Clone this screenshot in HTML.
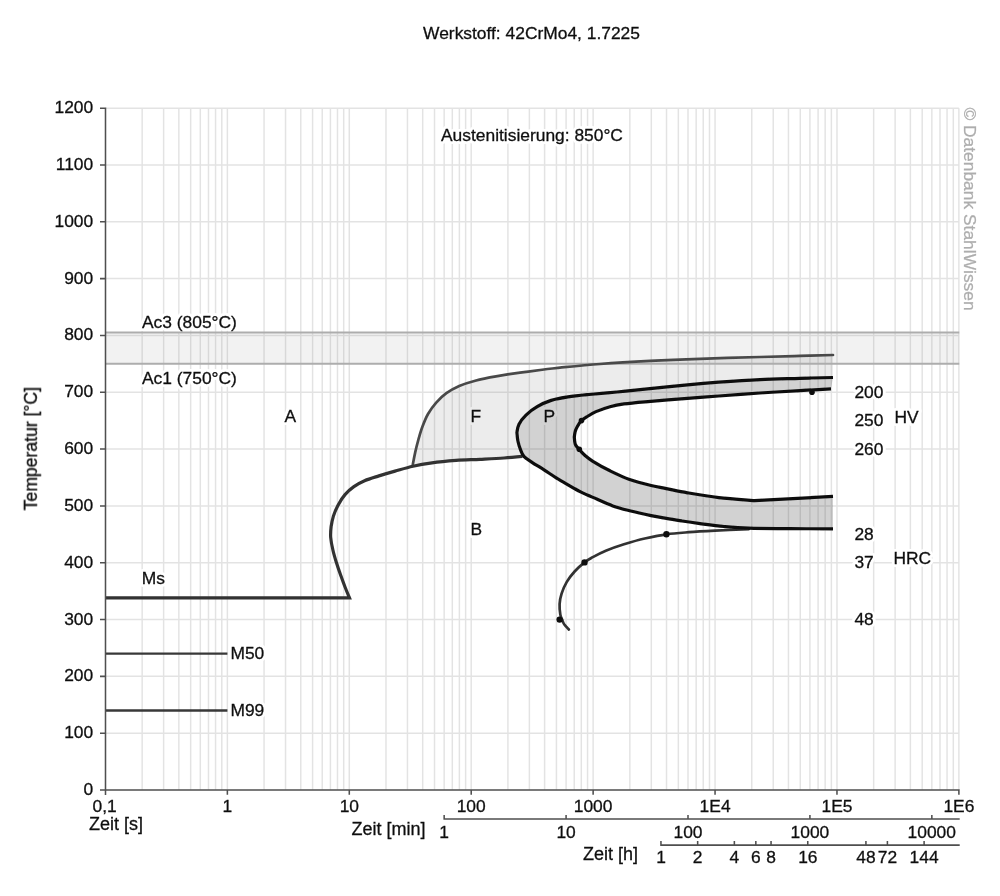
<!DOCTYPE html><html><head><meta charset="utf-8"><title>ZTU 42CrMo4</title>
<style>html,body{margin:0;padding:0;background:#fff}svg{display:block}text{font-family:"Liberation Sans",sans-serif;font-size:17.4px;fill:#111;stroke:#111;stroke-width:0.3px}text.h{stroke:#fff;stroke-width:6px;stroke-linejoin:round;fill:#fff}</style></head><body>
<svg width="1000" height="896" viewBox="0 0 1000 896">
<defs><filter id="bl" x="0" y="0" width="1000" height="896" filterUnits="userSpaceOnUse"><feGaussianBlur stdDeviation="0.55"/></filter></defs>
<rect width="1000" height="896" fill="#fff"/>
<g filter="url(#bl)">
<path d="M142.15,108.2V790.0M163.62,108.2V790.0M178.85,108.2V790.0M190.67,108.2V790.0M200.32,108.2V790.0M208.48,108.2V790.0M215.55,108.2V790.0M221.79,108.2V790.0M227.37,108.2V790.0M264.07,108.2V790.0M285.54,108.2V790.0M300.77,108.2V790.0M312.59,108.2V790.0M322.24,108.2V790.0M330.40,108.2V790.0M337.47,108.2V790.0M343.71,108.2V790.0M349.29,108.2V790.0M385.99,108.2V790.0M407.46,108.2V790.0M422.69,108.2V790.0M434.51,108.2V790.0M444.16,108.2V790.0M452.32,108.2V790.0M459.39,108.2V790.0M465.63,108.2V790.0M471.21,108.2V790.0M507.91,108.2V790.0M529.38,108.2V790.0M544.61,108.2V790.0M556.43,108.2V790.0M566.08,108.2V790.0M574.24,108.2V790.0M581.31,108.2V790.0M587.55,108.2V790.0M593.13,108.2V790.0M629.83,108.2V790.0M651.30,108.2V790.0M666.53,108.2V790.0M678.35,108.2V790.0M688.00,108.2V790.0M696.16,108.2V790.0M703.23,108.2V790.0M709.47,108.2V790.0M715.05,108.2V790.0M751.75,108.2V790.0M773.22,108.2V790.0M788.45,108.2V790.0M800.27,108.2V790.0M809.92,108.2V790.0M818.08,108.2V790.0M825.15,108.2V790.0M831.39,108.2V790.0M836.97,108.2V790.0M873.67,108.2V790.0M895.14,108.2V790.0M910.37,108.2V790.0M922.19,108.2V790.0M931.84,108.2V790.0M940.00,108.2V790.0M947.07,108.2V790.0M953.31,108.2V790.0M958.89,108.2V790.0M105.5,733.18H958.9M105.5,676.36H958.9M105.5,619.54H958.9M105.5,562.72H958.9M105.5,505.90H958.9M105.5,449.08H958.9M105.5,392.26H958.9M105.5,335.44H958.9M105.5,278.62H958.9M105.5,221.80H958.9M105.5,164.98H958.9M105.5,108.16H958.9" stroke="#000" stroke-opacity="0.108" stroke-width="1.5" fill="none"/>
<text class="h" x="531.5" y="39.0" text-anchor="middle">Werkstoff: 42CrMo4, 1.7225</text>
<text class="h" x="441.0" y="141.0" text-anchor="start">Austenitisierung: 850°C</text>
<text class="h" x="93.2" y="795.0" text-anchor="end">0</text>
<text class="h" x="93.2" y="738.2" text-anchor="end">100</text>
<text class="h" x="93.2" y="681.4" text-anchor="end">200</text>
<text class="h" x="93.2" y="624.5" text-anchor="end">300</text>
<text class="h" x="93.2" y="567.7" text-anchor="end">400</text>
<text class="h" x="93.2" y="510.9" text-anchor="end">500</text>
<text class="h" x="93.2" y="454.1" text-anchor="end">600</text>
<text class="h" x="93.2" y="397.3" text-anchor="end">700</text>
<text class="h" x="93.2" y="340.4" text-anchor="end">800</text>
<text class="h" x="93.2" y="283.6" text-anchor="end">900</text>
<text class="h" x="93.2" y="226.8" text-anchor="end">1000</text>
<text class="h" x="93.2" y="170.0" text-anchor="end">1100</text>
<text class="h" x="93.2" y="113.2" text-anchor="end">1200</text>
<text class="h" x="142.0" y="328.4" text-anchor="start">Ac3 (805°C)</text>
<text class="h" x="142.0" y="384.3" text-anchor="start">Ac1 (750°C)</text>
<text class="h" x="284.5" y="421.9" text-anchor="start">A</text>
<text class="h" x="470.5" y="421.9" text-anchor="start">F</text>
<text class="h" x="543.5" y="421.9" text-anchor="start">P</text>
<text class="h" x="470.5" y="535.3" text-anchor="start">B</text>
<text class="h" x="141.7" y="584.2" text-anchor="start">Ms</text>
<text class="h" x="230.4" y="659.4" text-anchor="start">M50</text>
<text class="h" x="230.4" y="716.0" text-anchor="start">M99</text>
<text class="h" x="854.4" y="397.8" text-anchor="start">200</text>
<text class="h" x="854.4" y="426.2" text-anchor="start">250</text>
<text class="h" x="854.4" y="454.6" text-anchor="start">260</text>
<text class="h" x="854.4" y="539.8" text-anchor="start">28</text>
<text class="h" x="854.4" y="568.2" text-anchor="start">37</text>
<text class="h" x="854.4" y="625.0" text-anchor="start">48</text>
<text class="h" x="894.5" y="422.5" text-anchor="start">HV</text>
<text class="h" x="893.5" y="564.0" text-anchor="start">HRC</text>
<text class="h" x="92.6" y="812.4" text-anchor="start">0,1</text>
<text class="h" x="227.4" y="812.4" text-anchor="middle">1</text>
<text class="h" x="349.3" y="812.4" text-anchor="middle">10</text>
<text class="h" x="471.2" y="812.4" text-anchor="middle">100</text>
<text class="h" x="593.1" y="812.4" text-anchor="middle">1000</text>
<text class="h" x="715.1" y="812.4" text-anchor="middle">1E4</text>
<text class="h" x="837.0" y="812.4" text-anchor="middle">1E5</text>
<text class="h" x="958.9" y="812.4" text-anchor="middle">1E6</text>
<text class="h" x="89.0" y="830.2" text-anchor="start" style="font-size:18px">Zeit [s]</text>
<text class="h" x="351.5" y="835.0" text-anchor="start" style="font-size:18px">Zeit [min]</text>
<text class="h" x="444.2" y="838.2" text-anchor="middle">1</text>
<text class="h" x="566.1" y="838.2" text-anchor="middle">10</text>
<text class="h" x="688.0" y="838.2" text-anchor="middle">100</text>
<text class="h" x="809.9" y="838.2" text-anchor="middle">1000</text>
<text class="h" x="931.8" y="838.2" text-anchor="middle">10000</text>
<text class="h" x="583.0" y="859.8" text-anchor="start" style="font-size:18px">Zeit [h]</text>
<text class="h" x="661.0" y="863.0" text-anchor="middle">1</text>
<text class="h" x="697.7" y="863.0" text-anchor="middle">2</text>
<text class="h" x="734.4" y="863.0" text-anchor="middle">4</text>
<text class="h" x="755.8" y="863.0" text-anchor="middle">6</text>
<text class="h" x="771.1" y="863.0" text-anchor="middle">8</text>
<text class="h" x="807.8" y="863.0" text-anchor="middle">16</text>
<text class="h" x="865.9" y="863.0" text-anchor="middle">48</text>
<text class="h" x="887.4" y="863.0" text-anchor="middle">72</text>
<text class="h" x="924.1" y="863.0" text-anchor="middle">144</text>
<rect x="105.5" y="332.6" width="853.8" height="31.3" fill="#000" fill-opacity="0.052"/>
<path d="M412.8,464.6 C413.2,462.6 414.3,456.6 415.2,452.4 C416.1,448.2 417.2,443.9 418.4,439.6 C419.6,435.3 420.8,431.1 422.4,426.8 C424.0,422.5 425.7,418.0 428.0,414.0 C430.3,410.0 432.9,406.3 436.0,402.8 C439.1,399.3 442.5,396.0 446.4,393.2 C450.3,390.4 454.4,388.1 459.2,386.0 C464.0,383.9 469.1,382.3 475.2,380.7 C481.3,379.1 488.5,377.7 496.0,376.4 C503.5,375.1 512.0,373.8 520.0,372.7 C528.0,371.6 537.3,370.4 544.0,369.5 C550.7,368.6 550.7,368.5 560.0,367.6 C569.3,366.7 585.0,365.1 600.0,364.0 C615.0,362.9 633.3,361.8 650.0,360.9 C666.7,360.0 681.7,359.4 700.0,358.8 C718.3,358.2 743.3,357.5 760.0,357.0 C776.7,356.5 787.8,356.2 800.0,355.9 C812.2,355.6 827.5,355.1 833.0,355.0 L833.0,377.5 C827.5,377.6 812.2,377.9 800.0,378.3 C787.8,378.7 773.5,379.0 760.0,379.6 C746.5,380.2 730.8,381.3 718.8,382.2 C706.7,383.1 699.8,383.7 687.5,384.9 C675.2,386.1 656.8,388.0 645.0,389.2 C633.2,390.4 626.3,391.1 617.0,392.0 C607.7,392.9 597.2,393.7 589.0,394.5 C580.8,395.3 574.3,395.9 568.0,396.9 C561.7,397.9 556.3,398.8 551.2,400.4 C546.1,402.0 541.4,404.2 537.2,406.7 C533.0,409.1 529.0,412.2 526.0,415.1 C523.0,418.0 520.5,421.3 519.0,424.2 C517.5,427.1 517.2,431.2 516.9,432.6 C517.1,434.0 517.3,438.2 517.9,441.0 C518.5,443.8 519.4,446.8 520.4,449.4 C521.4,452.0 523.3,455.2 523.9,456.4 L522.4,456.4 C519.3,456.7 511.1,457.5 504.0,458.0 C496.9,458.5 488.0,458.9 480.0,459.3 C472.0,459.7 464.0,459.8 456.0,460.4 C448.0,461.0 439.2,461.8 432.0,462.8 C424.8,463.8 416.1,465.6 412.9,466.2Z" fill="#000" fill-opacity="0.075"/>
<path d="M833.0,377.5 C827.5,377.6 812.2,377.9 800.0,378.3 C787.8,378.7 773.5,379.0 760.0,379.6 C746.5,380.2 730.8,381.3 718.8,382.2 C706.7,383.1 699.8,383.7 687.5,384.9 C675.2,386.1 656.8,388.0 645.0,389.2 C633.2,390.4 626.3,391.1 617.0,392.0 C607.7,392.9 597.2,393.7 589.0,394.5 C580.8,395.3 574.3,395.9 568.0,396.9 C561.7,397.9 556.3,398.8 551.2,400.4 C546.1,402.0 541.4,404.2 537.2,406.7 C533.0,409.1 529.0,412.2 526.0,415.1 C523.0,418.0 520.5,421.3 519.0,424.2 C517.5,427.1 517.2,431.2 516.9,432.6 C517.1,434.0 517.3,438.2 517.9,441.0 C518.5,443.8 519.4,446.8 520.4,449.4 C521.4,452.0 522.0,454.2 523.9,456.4 C525.8,458.5 528.6,460.0 532.0,462.3 C535.4,464.6 540.4,467.5 544.4,470.1 C548.4,472.7 552.6,475.5 556.2,477.8 C559.8,480.1 562.9,481.9 565.9,483.7 C568.9,485.4 571.5,486.9 574.0,488.3 C576.5,489.7 578.0,490.6 581.1,492.1 C584.2,493.6 587.6,495.1 592.9,497.4 C598.2,499.7 606.7,503.7 612.8,505.9 C618.9,508.1 623.2,509.1 629.6,510.7 C636.0,512.3 645.0,514.3 651.1,515.6 C657.2,516.9 661.1,517.5 666.3,518.4 C671.4,519.3 676.4,520.1 682.0,521.0 C687.6,521.9 693.0,522.7 700.0,523.6 C707.0,524.5 715.8,525.7 724.0,526.5 C732.2,527.3 738.0,527.9 749.0,528.2 C760.0,528.6 776.0,528.5 790.0,528.6 C804.0,528.7 825.8,528.9 833.0,528.9 L833.0,496.4 L754.5,500.6 C748.5,500.1 729.9,498.9 718.8,497.6 C707.6,496.3 696.2,494.3 687.5,492.8 C678.8,491.3 672.4,489.8 666.3,488.6 C660.2,487.4 657.2,487.0 651.1,485.5 C645.0,484.0 636.5,481.9 629.6,479.5 C622.8,477.1 616.1,473.8 610.0,470.8 C603.9,467.8 597.1,463.9 592.9,461.3 C588.7,458.7 587.1,457.2 584.8,455.2 C582.5,453.2 580.7,451.1 579.2,449.4 C577.7,447.7 576.5,446.5 575.7,445.2 C575.0,443.9 574.9,442.9 574.7,441.5 C574.5,440.1 574.4,437.8 574.3,437.0 C574.4,436.1 574.7,433.2 575.2,431.5 C575.7,429.8 576.1,428.8 577.1,427.0 C578.1,425.2 579.8,422.3 581.3,420.7 C582.8,419.1 583.8,418.7 586.2,417.2 C588.7,415.7 592.0,413.4 596.0,411.6 C600.0,409.9 605.3,408.0 610.0,406.7 C614.7,405.4 618.2,404.7 624.0,403.9 C629.8,403.1 634.4,402.7 645.0,401.8 C655.6,400.9 675.2,399.3 687.5,398.3 C699.8,397.3 706.7,396.9 718.8,396.0 C730.8,395.1 746.5,393.9 760.0,393.0 C773.5,392.1 788.2,391.3 800.0,390.6 C811.8,389.9 825.8,389.2 831.0,388.9Z" fill="#000" fill-opacity="0.175"/>
<path d="M105.5,332.6H959.3M105.5,363.8H959.3" stroke="#adadad" stroke-width="2" fill="none"/>
<path d="M412.8,464.6 C413.2,462.6 414.3,456.6 415.2,452.4 C416.1,448.2 417.2,443.9 418.4,439.6 C419.6,435.3 420.8,431.1 422.4,426.8 C424.0,422.5 425.7,418.0 428.0,414.0 C430.3,410.0 432.9,406.3 436.0,402.8 C439.1,399.3 442.5,396.0 446.4,393.2 C450.3,390.4 454.4,388.1 459.2,386.0 C464.0,383.9 469.1,382.3 475.2,380.7 C481.3,379.1 488.5,377.7 496.0,376.4 C503.5,375.1 512.0,373.8 520.0,372.7 C528.0,371.6 537.3,370.4 544.0,369.5 C550.7,368.6 550.7,368.5 560.0,367.6 C569.3,366.7 585.0,365.1 600.0,364.0 C615.0,362.9 633.3,361.8 650.0,360.9 C666.7,360.0 681.7,359.4 700.0,358.8 C718.3,358.2 743.3,357.5 760.0,357.0 C776.7,356.5 787.8,356.2 800.0,355.9 C812.2,355.6 827.5,355.1 833.0,355.0" stroke="#4a4a4a" stroke-width="2.7" fill="none" stroke-linecap="round"/>
<path d="M105.5,597.9H349.5  C348.8,596.2 346.7,591.3 345.2,587.5 C343.7,583.7 342.1,579.2 340.6,575.0 C339.1,570.8 337.7,566.7 336.4,562.5 C335.1,558.3 333.8,554.2 332.9,550.0 C331.9,545.8 331.0,541.4 330.7,537.5 C330.4,533.6 330.7,530.4 331.1,526.8 C331.6,523.2 332.3,519.7 333.4,516.1 C334.5,512.5 336.0,509.0 337.9,505.4 C339.8,501.8 342.3,497.7 345.0,494.6 C347.7,491.5 350.6,488.9 353.9,486.6 C357.2,484.3 360.4,482.5 364.6,480.7 C368.8,478.9 373.8,477.5 378.9,475.9 C384.0,474.3 389.3,472.7 395.0,471.1 C400.7,469.5 406.7,467.6 412.9,466.2 C419.1,464.8 424.8,463.8 432.0,462.8 C439.2,461.8 448.0,461.0 456.0,460.4 C464.0,459.8 472.0,459.7 480.0,459.3 C488.0,458.9 496.9,458.5 504.0,458.0 C511.1,457.5 519.3,456.7 522.4,456.4" stroke="#333" stroke-width="3.2" fill="none" stroke-linejoin="miter"/>
<path d="M105.5,653.6H227.4M105.5,710.5H227.4" stroke="#383838" stroke-width="2.4" fill="none"/>
<path d="M748.8,529.1 C743.2,529.4 725.0,530.2 715.0,530.7 C705.0,531.2 697.1,531.6 689.0,532.2 C680.9,532.8 673.8,533.2 666.4,534.3 C659.0,535.3 651.9,536.9 644.8,538.5 C637.7,540.1 630.5,542.2 624.0,544.2 C617.5,546.2 611.0,548.5 605.8,550.7 C600.6,552.9 596.3,555.2 592.8,557.2 C589.2,559.2 587.5,560.0 584.5,562.4 C581.5,564.8 577.6,568.2 574.6,571.5 C571.6,574.8 569.0,578.2 566.8,581.9 C564.6,585.6 562.8,589.9 561.6,593.6 C560.4,597.3 559.8,600.5 559.6,604.0 C559.4,607.5 559.9,611.8 560.3,614.4 C560.7,617.0 561.5,618.0 562.1,619.6 C562.8,621.2 563.1,622.6 564.2,624.3 C565.3,625.9 568.1,628.6 568.9,629.5" stroke="#333" stroke-width="2.7" fill="none" stroke-linecap="round"/>
<path d="M833.0,377.5 C827.5,377.6 812.2,377.9 800.0,378.3 C787.8,378.7 773.5,379.0 760.0,379.6 C746.5,380.2 730.8,381.3 718.8,382.2 C706.7,383.1 699.8,383.7 687.5,384.9 C675.2,386.1 656.8,388.0 645.0,389.2 C633.2,390.4 626.3,391.1 617.0,392.0 C607.7,392.9 597.2,393.7 589.0,394.5 C580.8,395.3 574.3,395.9 568.0,396.9 C561.7,397.9 556.3,398.8 551.2,400.4 C546.1,402.0 541.4,404.2 537.2,406.7 C533.0,409.1 529.0,412.2 526.0,415.1 C523.0,418.0 520.5,421.3 519.0,424.2 C517.5,427.1 517.2,431.2 516.9,432.6 C517.1,434.0 517.3,438.2 517.9,441.0 C518.5,443.8 519.4,446.8 520.4,449.4 C521.4,452.0 522.0,454.2 523.9,456.4 C525.8,458.5 528.6,460.0 532.0,462.3 C535.4,464.6 540.4,467.5 544.4,470.1 C548.4,472.7 552.6,475.5 556.2,477.8 C559.8,480.1 562.9,481.9 565.9,483.7 C568.9,485.4 571.5,486.9 574.0,488.3 C576.5,489.7 578.0,490.6 581.1,492.1 C584.2,493.6 587.6,495.1 592.9,497.4 C598.2,499.7 606.7,503.7 612.8,505.9 C618.9,508.1 623.2,509.1 629.6,510.7 C636.0,512.3 645.0,514.3 651.1,515.6 C657.2,516.9 661.1,517.5 666.3,518.4 C671.4,519.3 676.4,520.1 682.0,521.0 C687.6,521.9 693.0,522.7 700.0,523.6 C707.0,524.5 715.8,525.7 724.0,526.5 C732.2,527.3 738.0,527.9 749.0,528.2 C760.0,528.6 776.0,528.5 790.0,528.6 C804.0,528.7 825.8,528.9 833.0,528.9" stroke="#111" stroke-width="3.2" fill="none" stroke-linejoin="round"/>
<path d="M831.0,388.9 C825.8,389.2 811.8,389.9 800.0,390.6 C788.2,391.3 773.5,392.1 760.0,393.0 C746.5,393.9 730.8,395.1 718.8,396.0 C706.7,396.9 699.8,397.3 687.5,398.3 C675.2,399.3 655.6,400.9 645.0,401.8 C634.4,402.7 629.8,403.1 624.0,403.9 C618.2,404.7 614.7,405.4 610.0,406.7 C605.3,408.0 600.0,409.9 596.0,411.6 C592.0,413.4 588.7,415.7 586.2,417.2 C583.8,418.7 582.8,419.1 581.3,420.7 C579.8,422.3 578.1,425.2 577.1,427.0 C576.1,428.8 575.7,429.8 575.2,431.5 C574.7,433.2 574.4,436.1 574.3,437.0 C574.4,437.8 574.5,440.1 574.7,441.5 C574.9,442.9 575.0,443.9 575.7,445.2 C576.5,446.5 577.7,447.7 579.2,449.4 C580.7,451.1 582.5,453.2 584.8,455.2 C587.1,457.2 588.7,458.7 592.9,461.3 C597.1,463.9 603.9,467.8 610.0,470.8 C616.1,473.8 622.8,477.1 629.6,479.5 C636.5,481.9 645.0,484.0 651.1,485.5 C657.2,487.0 660.2,487.4 666.3,488.6 C672.4,489.8 678.8,491.3 687.5,492.8 C696.2,494.3 707.6,496.3 718.8,497.6 C729.9,498.9 748.5,500.1 754.5,500.6 L833.0,496.4" stroke="#111" stroke-width="3.2" fill="none" stroke-linejoin="round"/>
<circle cx="812.0" cy="392.2" r="2.8" fill="#111"/>
<circle cx="581.5" cy="420.6" r="2.8" fill="#111"/>
<circle cx="579.3" cy="449.2" r="2.8" fill="#111"/>
<circle cx="666.4" cy="534.3" r="3.2" fill="#111"/>
<circle cx="584.5" cy="562.4" r="3.2" fill="#111"/>
<circle cx="559.6" cy="619.6" r="3.2" fill="#111"/>
<path d="M105.5,107.4V795.0M100.0,790.0H959.7M100.0,733.18H105.5M100.0,676.36H105.5M100.0,619.54H105.5M100.0,562.72H105.5M100.0,505.90H105.5M100.0,449.08H105.5M100.0,392.26H105.5M100.0,335.44H105.5M100.0,278.62H105.5M100.0,221.80H105.5M100.0,164.98H105.5M100.0,108.16H105.5M227.37,790.0V794.8M349.29,790.0V794.8M471.21,790.0V794.8M593.13,790.0V794.8M715.05,790.0V794.8M836.97,790.0V794.8M958.89,790.0V794.8M443.4,818.9H959.7M444.16,814.9V818.9M566.08,814.9V818.9M688.00,814.9V818.9M809.92,814.9V818.9M931.84,814.9V818.9M660.2,845.1H959.7M660.95,841.1V845.1M697.66,841.1V845.1M734.36,841.1V845.1M755.83,841.1V845.1M771.06,841.1V845.1M807.76,841.1V845.1M865.93,841.1V845.1M887.40,841.1V845.1M924.10,841.1V845.1" stroke="#505050" stroke-width="1.55" fill="none"/>
<text x="531.5" y="39.0" text-anchor="middle">Werkstoff: 42CrMo4, 1.7225</text>
<text x="441.0" y="141.0" text-anchor="start">Austenitisierung: 850°C</text>
<text x="93.2" y="795.0" text-anchor="end">0</text>
<text x="93.2" y="738.2" text-anchor="end">100</text>
<text x="93.2" y="681.4" text-anchor="end">200</text>
<text x="93.2" y="624.5" text-anchor="end">300</text>
<text x="93.2" y="567.7" text-anchor="end">400</text>
<text x="93.2" y="510.9" text-anchor="end">500</text>
<text x="93.2" y="454.1" text-anchor="end">600</text>
<text x="93.2" y="397.3" text-anchor="end">700</text>
<text x="93.2" y="340.4" text-anchor="end">800</text>
<text x="93.2" y="283.6" text-anchor="end">900</text>
<text x="93.2" y="226.8" text-anchor="end">1000</text>
<text x="93.2" y="170.0" text-anchor="end">1100</text>
<text x="93.2" y="113.2" text-anchor="end">1200</text>
<text x="142.0" y="328.4" text-anchor="start">Ac3 (805°C)</text>
<text x="142.0" y="384.3" text-anchor="start">Ac1 (750°C)</text>
<text x="284.5" y="421.9" text-anchor="start">A</text>
<text x="470.5" y="421.9" text-anchor="start">F</text>
<text x="543.5" y="421.9" text-anchor="start">P</text>
<text x="470.5" y="535.3" text-anchor="start">B</text>
<text x="141.7" y="584.2" text-anchor="start">Ms</text>
<text x="230.4" y="659.4" text-anchor="start">M50</text>
<text x="230.4" y="716.0" text-anchor="start">M99</text>
<text x="854.4" y="397.8" text-anchor="start">200</text>
<text x="854.4" y="426.2" text-anchor="start">250</text>
<text x="854.4" y="454.6" text-anchor="start">260</text>
<text x="854.4" y="539.8" text-anchor="start">28</text>
<text x="854.4" y="568.2" text-anchor="start">37</text>
<text x="854.4" y="625.0" text-anchor="start">48</text>
<text x="894.5" y="422.5" text-anchor="start">HV</text>
<text x="893.5" y="564.0" text-anchor="start">HRC</text>
<text transform="translate(36.9,448.6) rotate(-90)" text-anchor="middle" style="font-size:17.6px">Temperatur [°C]</text>
<text transform="translate(963.5,107.4) rotate(90)" style="fill:#adadad;stroke:#adadad;stroke-width:0.25px">© Datenbank StahlWissen</text>
<text x="92.6" y="812.4" text-anchor="start">0,1</text>
<text x="227.4" y="812.4" text-anchor="middle">1</text>
<text x="349.3" y="812.4" text-anchor="middle">10</text>
<text x="471.2" y="812.4" text-anchor="middle">100</text>
<text x="593.1" y="812.4" text-anchor="middle">1000</text>
<text x="715.1" y="812.4" text-anchor="middle">1E4</text>
<text x="837.0" y="812.4" text-anchor="middle">1E5</text>
<text x="958.9" y="812.4" text-anchor="middle">1E6</text>
<text x="89.0" y="830.2" text-anchor="start" style="font-size:18px">Zeit [s]</text>
<text x="351.5" y="835.0" text-anchor="start" style="font-size:18px">Zeit [min]</text>
<text x="444.2" y="838.2" text-anchor="middle">1</text>
<text x="566.1" y="838.2" text-anchor="middle">10</text>
<text x="688.0" y="838.2" text-anchor="middle">100</text>
<text x="809.9" y="838.2" text-anchor="middle">1000</text>
<text x="931.8" y="838.2" text-anchor="middle">10000</text>
<text x="583.0" y="859.8" text-anchor="start" style="font-size:18px">Zeit [h]</text>
<text x="661.0" y="863.0" text-anchor="middle">1</text>
<text x="697.7" y="863.0" text-anchor="middle">2</text>
<text x="734.4" y="863.0" text-anchor="middle">4</text>
<text x="755.8" y="863.0" text-anchor="middle">6</text>
<text x="771.1" y="863.0" text-anchor="middle">8</text>
<text x="807.8" y="863.0" text-anchor="middle">16</text>
<text x="865.9" y="863.0" text-anchor="middle">48</text>
<text x="887.4" y="863.0" text-anchor="middle">72</text>
<text x="924.1" y="863.0" text-anchor="middle">144</text>
</g></svg></body></html>
